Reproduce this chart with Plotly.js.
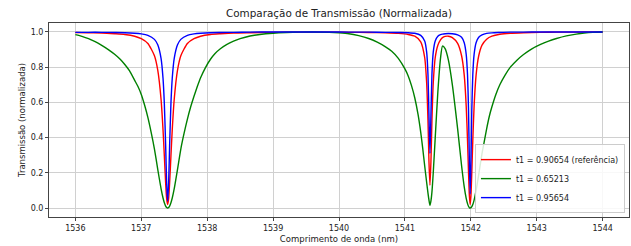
<!DOCTYPE html>
<html>
<head>
<meta charset="utf-8">
<script src="https://cdn.plot.ly/plotly-3.0.1.min.js"></script>
<style>html,body{margin:0;padding:0;background:#fff;}#chart{width:631px;height:246px;}</style>
</head>
<body>
<div id="chart"></div>
<script>
// Wavelength samples (nm) for the two narrow curves
const wavelength = [1536.0,1536.2,1536.4,1536.6,1536.75,1536.9,1537.0,1537.1,1537.2,1537.25,1537.3,1537.33,1537.35,1537.37,1537.385,1537.4,1537.415,1537.43,1537.45,1537.47,1537.5,1537.55,1537.6,1537.7,1537.8,1537.9,1538.05,1538.2,1538.4,1538.65,1539.0,1539.4,1539.85,1540.15,1540.45,1540.7,1540.9,1541.05,1541.15,1541.24,1541.3,1541.33,1541.35,1541.365,1541.38,1541.395,1541.41,1541.43,1541.46,1541.5,1541.54,1541.57,1541.61,1541.66,1541.72,1541.8,1541.86,1541.9,1541.93,1541.95,1541.965,1541.978,1541.99,1542.002,1542.015,1542.03,1542.05,1542.08,1542.12,1542.17,1542.24,1542.32,1542.44,1542.6,1542.8,1543.05,1543.3,1543.6,1543.85,1544.0];

// t1 = 0.90654 (referência)
const tRef = [0.997,0.995,0.994,0.990,0.986,0.976,0.962,0.935,0.865,0.783,0.618,0.445,0.295,0.141,0.053,0.02,0.053,0.141,0.295,0.445,0.618,0.783,0.865,0.935,0.962,0.976,0.986,0.990,0.994,0.996,0.998,0.999,0.999,0.998,0.997,0.995,0.992,0.986,0.976,0.944,0.855,0.710,0.496,0.263,0.129,0.263,0.496,0.710,0.855,0.925,0.955,0.968,0.975,0.976,0.968,0.935,0.865,0.755,0.58,0.384,0.204,0.07,0.02,0.07,0.204,0.384,0.58,0.755,0.865,0.925,0.959,0.976,0.987,0.993,0.996,0.998,0.999,0.999,1.0,1.0];

// t1 = 0.95654
const tHigh = [0.998,0.998,0.998,0.997,0.996,0.993,0.989,0.981,0.958,0.927,0.850,0.737,0.592,0.354,0.144,0.04,0.144,0.354,0.592,0.737,0.850,0.927,0.958,0.981,0.989,0.993,0.996,0.997,0.998,0.999,1.0,1.0,1.0,0.999,0.999,0.998,0.997,0.996,0.993,0.981,0.949,0.886,0.757,0.528,0.31,0.528,0.757,0.886,0.949,0.976,0.985,0.988,0.990,0.991,0.990,0.984,0.970,0.939,0.873,0.757,0.559,0.264,0.08,0.264,0.559,0.757,0.873,0.939,0.970,0.984,0.992,0.995,0.997,0.999,0.999,1.0,1.0,1.0,1.0,1.0];

// Wavelength samples (nm) for the wide curve
const wavelengthLow = [1536.0,1536.1,1536.2,1536.3,1536.4,1536.5,1536.6,1536.68,1536.75,1536.82,1536.9,1536.95,1537.0,1537.05,1537.1,1537.15,1537.2,1537.25,1537.3,1537.33,1537.35,1537.37,1537.385,1537.4,1537.415,1537.43,1537.45,1537.47,1537.5,1537.55,1537.6,1537.65,1537.7,1537.75,1537.8,1537.85,1537.9,1537.97,1538.05,1538.12,1538.2,1538.3,1538.4,1538.5,1538.65,1538.8,1539.0,1539.2,1539.4,1539.6,1539.85,1540.0,1540.15,1540.3,1540.45,1540.58,1540.7,1540.8,1540.9,1541.0,1541.05,1541.1,1541.15,1541.2,1541.24,1541.27,1541.3,1541.33,1541.35,1541.365,1541.38,1541.395,1541.41,1541.43,1541.46,1541.5,1541.54,1541.57,1541.61,1541.66,1541.72,1541.8,1541.86,1541.9,1541.93,1541.95,1541.965,1541.978,1541.99,1542.002,1542.015,1542.03,1542.05,1542.08,1542.12,1542.17,1542.2,1542.24,1542.28,1542.32,1542.38,1542.44,1542.52,1542.6,1542.7,1542.8,1542.92,1543.05,1543.18,1543.3,1543.45,1543.6,1543.72,1543.85,1544.0];

// t1 = 0.65213
const tLow = [0.985,0.975,0.962,0.945,0.924,0.90,0.872,0.845,0.815,0.78,0.725,0.69,0.645,0.585,0.515,0.43,0.335,0.22,0.11,0.057,0.03,0.011,0.003,0.0,0.003,0.011,0.03,0.057,0.11,0.22,0.335,0.425,0.505,0.575,0.635,0.69,0.74,0.795,0.845,0.878,0.905,0.93,0.948,0.962,0.977,0.986,0.993,0.997,0.999,1.0,0.998,0.995,0.99,0.979,0.963,0.942,0.917,0.89,0.85,0.79,0.75,0.695,0.625,0.53,0.43,0.34,0.24,0.145,0.085,0.045,0.015,0.04,0.09,0.20,0.40,0.66,0.85,0.92,0.905,0.84,0.70,0.45,0.24,0.12,0.055,0.025,0.01,0.002,0.0,0.002,0.008,0.02,0.045,0.10,0.19,0.31,0.37,0.45,0.52,0.575,0.645,0.70,0.755,0.80,0.84,0.872,0.903,0.928,0.948,0.963,0.978,0.988,0.994,0.998,1.0];

const seriesNames = ['t1 = 0.90654 (referência)', 't1 = 0.65213', 't1 = 0.95654'];
const xTicks = [1536,1537,1538,1539,1540,1541,1542,1543,1544];
const yTicks = [0.0,0.2,0.4,0.6,0.8,1.0];
const yTickText = ['0.0','0.2','0.4','0.6','0.8','1.0'];

const font = 'DejaVu Sans, sans-serif';
const mk = (x, y, name, color) => ({
  x: x, y: y, name: name, type: 'scatter', mode: 'lines',
  line: {color: color, width: 1.4, shape: 'spline', smoothing: 0.6}
});

const data = [
  mk(wavelength, tRef, seriesNames[0], '#ff0000'),
  mk(wavelengthLow, tLow, seriesNames[1], '#008000'),
  mk(wavelength, tHigh, seriesNames[2], '#0000ff')
];

const axisCommon = {
  showline: true, mirror: true, linecolor: '#444', linewidth: 1,
  showgrid: true, gridcolor: '#d0d0d0', gridwidth: 1,
  ticks: 'outside', ticklen: 3, tickwidth: 1, tickcolor: '#444',
  zeroline: false, tickfont: {family: font, size: 8, color: '#222'}
};

const layout = {
  width: 631, height: 246,
  margin: {l: 49, r: 2, t: 23, b: 29},
  paper_bgcolor: '#fff', plot_bgcolor: '#fff',
  font: {family: font, size: 8, color: '#222'},
  title: {text: 'Comparação de Transmissão (Normalizada)', font: {family: font, size: 10.4, color: '#222'},
          x: 0.5, xref: 'paper', xanchor: 'center', y: 0.947, yref: 'container', yanchor: 'middle'},
  xaxis: Object.assign({}, axisCommon, {
    range: [1535.6, 1544.4], tickvals: xTicks, ticktext: xTicks.map(String),
    title: {text: 'Comprimento de onda (nm)', font: {family: font, size: 8.5, color: '#222'}, standoff: 4}
  }),
  yaxis: Object.assign({}, axisCommon, {
    range: [-0.051, 1.051], tickvals: yTicks, ticktext: yTickText,
    title: {text: 'Transmissão (normalizada)', font: {family: font, size: 8.5, color: '#222'}, standoff: 3}
  }),
  showlegend: true,
  legend: {x: 0.993, xanchor: 'right', y: 0.02, yanchor: 'bottom',
           bgcolor: 'rgba(255,255,255,0.85)', bordercolor: '#cccccc', borderwidth: 1,
           font: {family: font, size: 8, color: '#222'}, tracegroupgap: 0}
};

Plotly.newPlot('chart', data, layout, {displayModeBar: false, staticPlot: true});
</script>
</body>
</html>
